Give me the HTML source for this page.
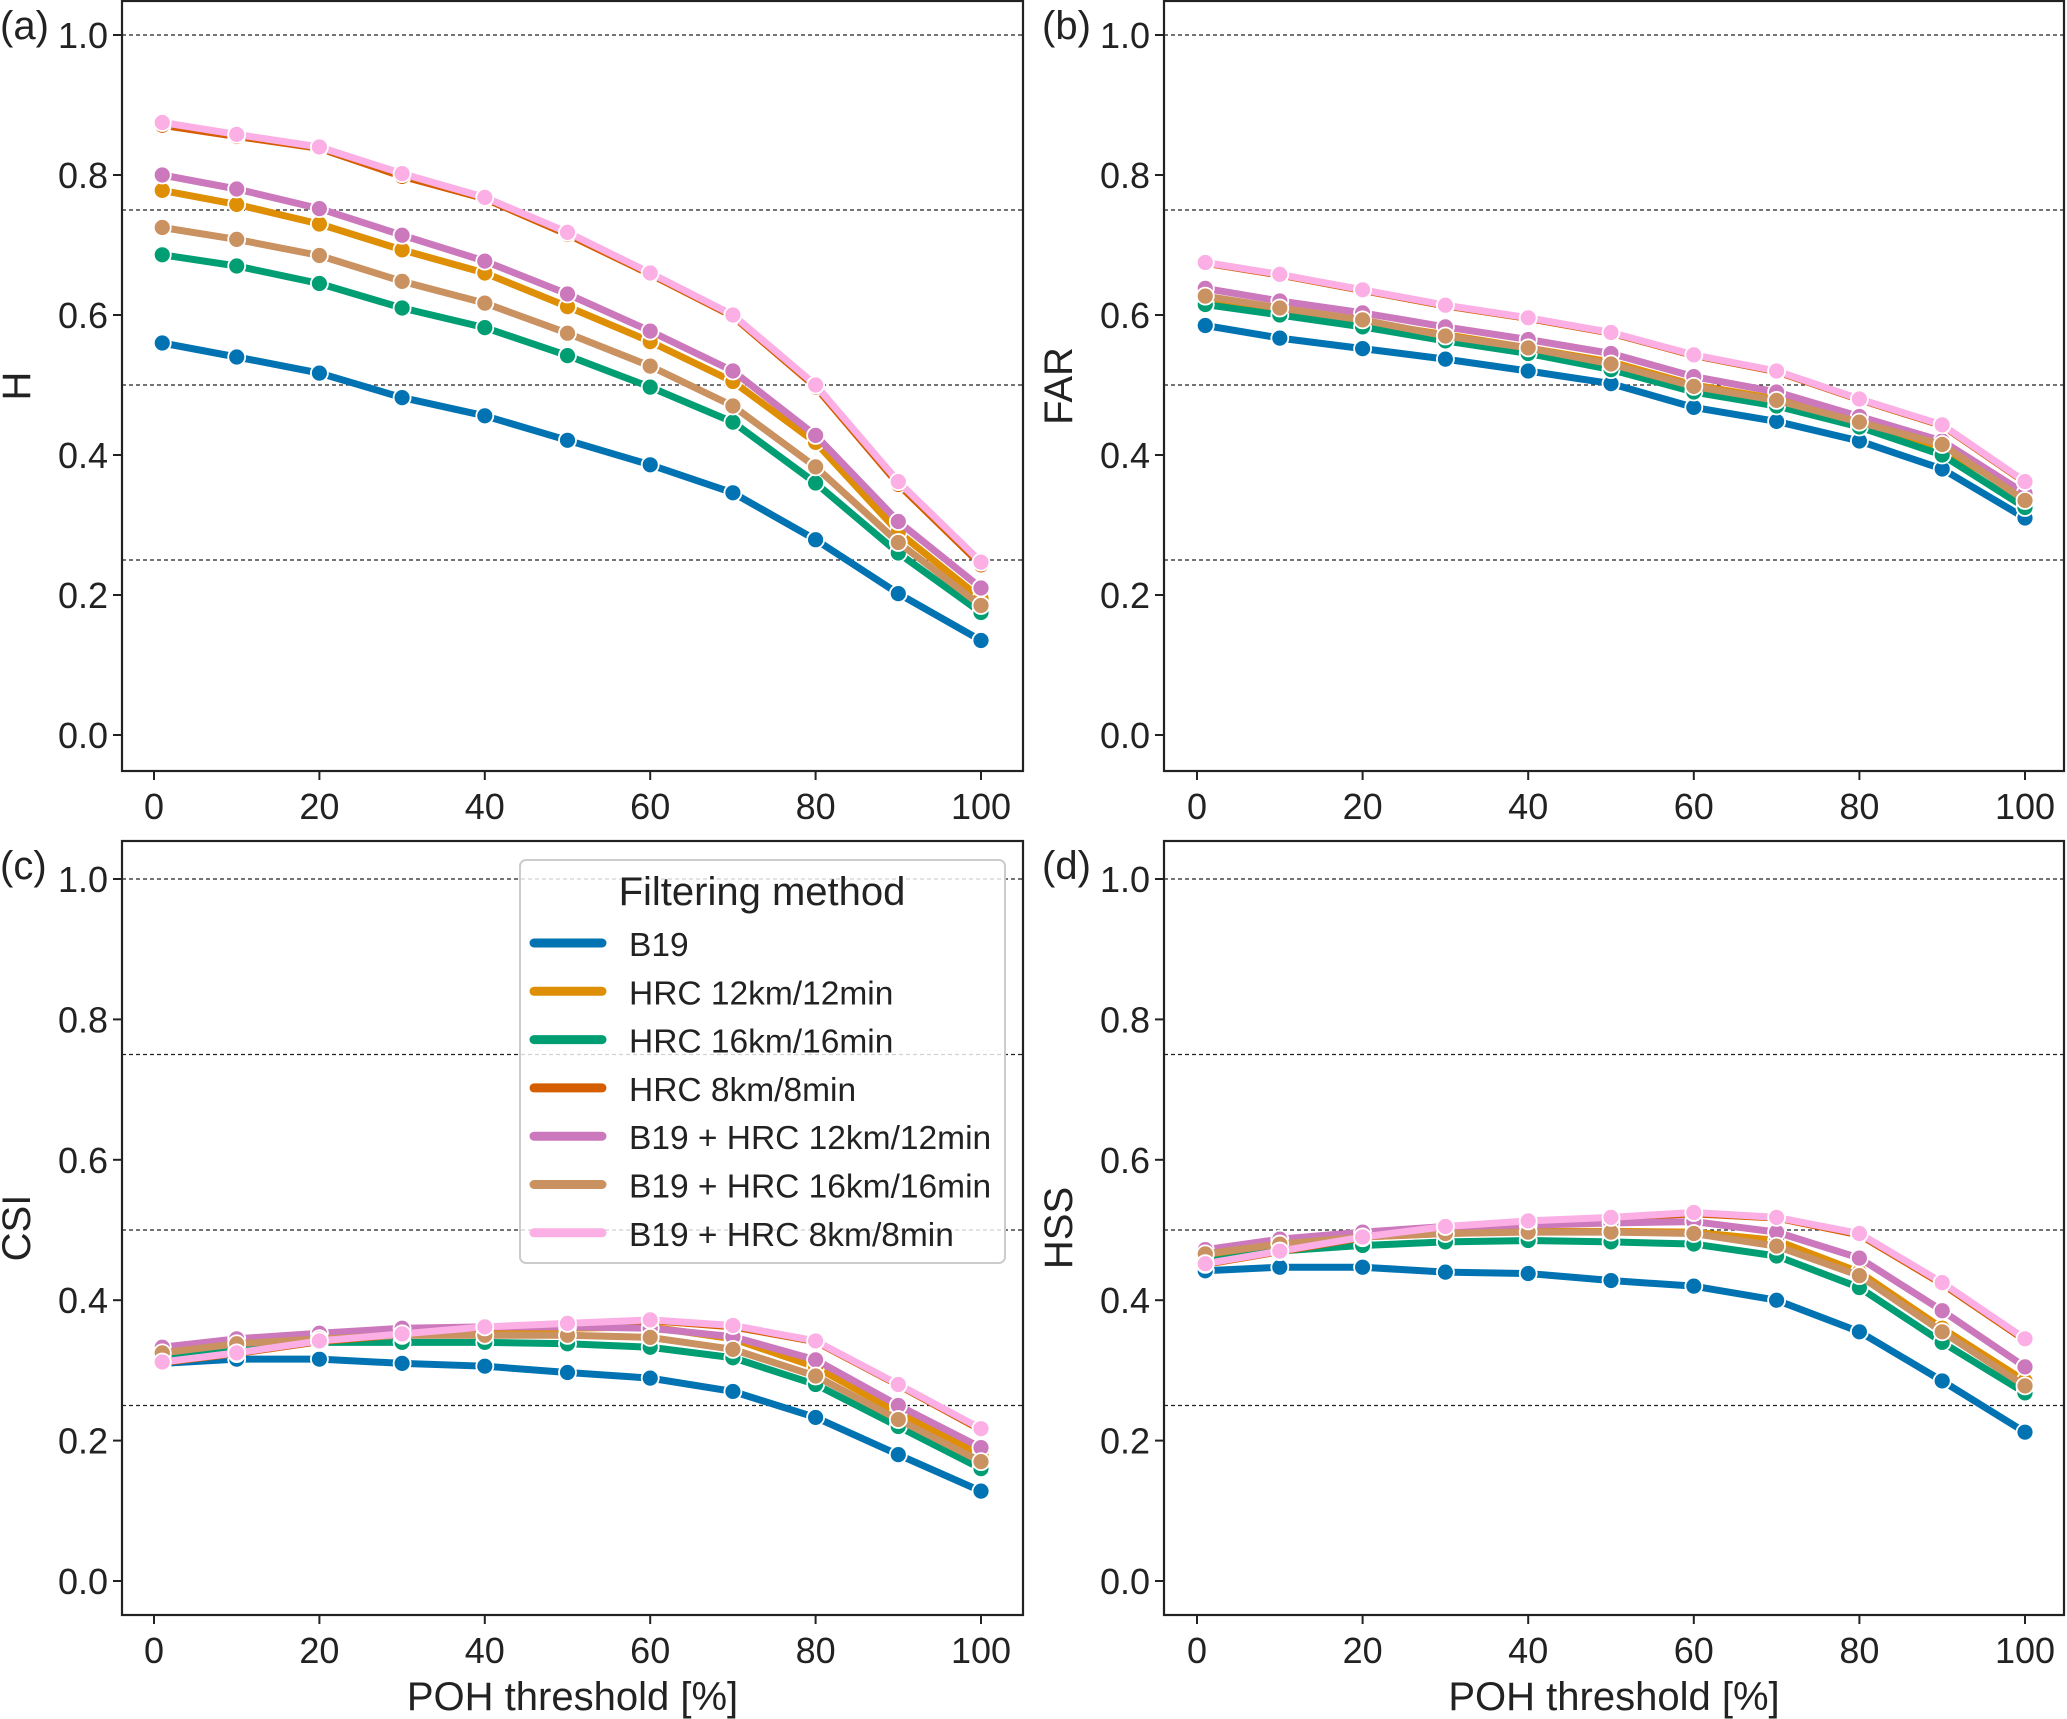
<!DOCTYPE html>
<html><head><meta charset="utf-8">
<style>
html,body{margin:0;padding:0;background:#fff;}
svg{display:block;font-family:"Liberation Sans",Arial,sans-serif;}
</style></head>
<body>
<svg id="fig" width="2067" height="1719" viewBox="0 0 2067 1719" xmlns="http://www.w3.org/2000/svg"></svg>
<script>
const xs = [1,10,20,30,40,50,60,70,80,90,100];
const seriesNames = ["B19","HRC 12km/12min","HRC 16km/16min","HRC 8km/8min","B19 + HRC 12km/12min","B19 + HRC 16km/16min","B19 + HRC 8km/8min"];
const colors = ["#0173b2","#de8f05","#029e73","#d55e00","#cc78bc","#ca9161","#fbafe4"];
const yTicks = [0.0,0.2,0.4,0.6,0.8,1.0];
const xTicks = [0,20,40,60,80,100];
const hLines = [0.25,0.5,0.75,1.0];

const H_B19 = [0.56,0.54,0.517,0.482,0.456,0.421,0.386,0.346,0.279,0.202,0.135];
const H_HRC12 = [0.778,0.758,0.73,0.693,0.66,0.612,0.562,0.505,0.418,0.29,0.195];
const H_HRC16 = [0.686,0.67,0.645,0.61,0.582,0.542,0.497,0.447,0.36,0.26,0.175];
const H_HRC8 = [0.871,0.855,0.838,0.798,0.766,0.715,0.658,0.598,0.497,0.358,0.243];
const H_B19HRC12 = [0.8,0.78,0.752,0.714,0.677,0.63,0.577,0.52,0.428,0.305,0.21];
const H_B19HRC16 = [0.725,0.708,0.685,0.648,0.617,0.574,0.527,0.47,0.383,0.275,0.185];
const H_B19HRC8 = [0.875,0.858,0.84,0.802,0.768,0.718,0.66,0.6,0.5,0.362,0.247];

const FAR_B19 = [0.585,0.567,0.552,0.537,0.52,0.502,0.468,0.448,0.42,0.38,0.31];
const FAR_HRC12 = [0.622,0.606,0.59,0.572,0.553,0.533,0.5,0.48,0.45,0.41,0.34];
const FAR_HRC16 = [0.615,0.6,0.583,0.563,0.545,0.522,0.49,0.47,0.44,0.4,0.325];
const FAR_HRC8 = [0.674,0.657,0.635,0.613,0.595,0.574,0.542,0.519,0.479,0.442,0.361];
const FAR_B19HRC12 = [0.638,0.62,0.603,0.583,0.565,0.545,0.512,0.49,0.455,0.42,0.345];
const FAR_B19HRC16 = [0.627,0.61,0.593,0.57,0.553,0.53,0.498,0.478,0.447,0.415,0.335];
const FAR_B19HRC8 = [0.675,0.658,0.636,0.614,0.596,0.575,0.543,0.52,0.48,0.443,0.362];

const CSI_B19 = [0.31,0.316,0.316,0.31,0.306,0.297,0.289,0.27,0.233,0.18,0.128];
const CSI_HRC12 = [0.325,0.34,0.35,0.355,0.358,0.36,0.362,0.345,0.305,0.24,0.18];
const CSI_HRC16 = [0.32,0.332,0.34,0.34,0.34,0.338,0.333,0.318,0.28,0.22,0.16];
const CSI_HRC8 = [0.311,0.324,0.341,0.351,0.361,0.366,0.371,0.362,0.341,0.279,0.215];
const CSI_B19HRC12 = [0.333,0.345,0.353,0.36,0.362,0.362,0.36,0.348,0.315,0.25,0.19];
const CSI_B19HRC16 = [0.325,0.338,0.345,0.35,0.35,0.35,0.347,0.33,0.292,0.23,0.17];
const CSI_B19HRC8 = [0.312,0.325,0.342,0.352,0.362,0.367,0.372,0.364,0.342,0.28,0.217];

const HSS_B19 = [0.442,0.447,0.447,0.44,0.438,0.428,0.42,0.4,0.355,0.285,0.212];
const HSS_HRC12 = [0.46,0.478,0.49,0.495,0.498,0.498,0.497,0.485,0.44,0.36,0.285];
const HSS_HRC16 = [0.455,0.47,0.478,0.483,0.485,0.483,0.48,0.463,0.418,0.34,0.268];
const HSS_HRC8 = [0.451,0.469,0.489,0.503,0.512,0.517,0.523,0.517,0.493,0.423,0.343];
const HSS_B19HRC12 = [0.472,0.487,0.497,0.505,0.507,0.51,0.512,0.497,0.46,0.385,0.305];
const HSS_B19HRC16 = [0.466,0.48,0.49,0.495,0.497,0.497,0.495,0.477,0.435,0.355,0.278];
const HSS_B19HRC8 = [0.452,0.47,0.49,0.505,0.513,0.518,0.525,0.518,0.495,0.425,0.345];

const NS = "http://www.w3.org/2000/svg";
const svg = document.getElementById("fig");
function mk(tag, attrs, parent){
  const e = document.createElementNS(NS, tag);
  for (const k in attrs) e.setAttribute(k, attrs[k]);
  (parent||svg).appendChild(e);
  return e;
}

const panels = [
  {id:"a", label:"H", data:[H_B19,H_HRC12,H_HRC16,H_HRC8,H_B19HRC12,H_B19HRC16,H_B19HRC8], L:122,R:1023,T:1,B:771, x0:154,x100:981, y0:735,y1:35, xlab:false},
  {id:"b", label:"FAR", data:[FAR_B19,FAR_HRC12,FAR_HRC16,FAR_HRC8,FAR_B19HRC12,FAR_B19HRC16,FAR_B19HRC8], L:1164,R:2064,T:1,B:771, x0:1197,x100:2025, y0:735,y1:35, xlab:false},
  {id:"c", label:"CSI", data:[CSI_B19,CSI_HRC12,CSI_HRC16,CSI_HRC8,CSI_B19HRC12,CSI_B19HRC16,CSI_B19HRC8], L:122,R:1023,T:841,B:1615, x0:154,x100:981, y0:1581,y1:879, xlab:true},
  {id:"d", label:"HSS", data:[HSS_B19,HSS_HRC12,HSS_HRC16,HSS_HRC8,HSS_B19HRC12,HSS_B19HRC16,HSS_B19HRC8], L:1164,R:2064,T:841,B:1615, x0:1197,x100:2025, y0:1581,y1:879, xlab:true}
];

panels.forEach(p=>{
  const g = mk("g",{});
  
  
  const X = v => p.x0 + (p.x100-p.x0)*v/100;
  const Y = v => p.y0 + (p.y1-p.y0)*v;
  hLines.forEach(h=>{
    const l = mk("line",{x1:p.L,x2:p.R,y1:Y(h),y2:Y(h),stroke:"#222","stroke-width":1.3,"stroke-dasharray":"4,3"},g);
    
    
  });
  p.data.forEach((arr,si)=>{
    const pts = arr.map((v,i)=>X(xs[i])+","+Y(v)).join(" ");
    const pl = mk("polyline",{points:pts,fill:"none",stroke:colors[si],"stroke-width":7,"stroke-linejoin":"round","stroke-linecap":"round"},g);
    
    
    arr.forEach((v,i)=>{
      const c = mk("circle",{cx:X(xs[i]),cy:Y(v),r:8.5,fill:colors[si],stroke:"#fff","stroke-width":1.8},g);
      
      
    });
  });
  const fr = mk("rect",{x:p.L,y:p.T,width:p.R-p.L,height:p.B-p.T,fill:"none",stroke:"#222","stroke-width":2.2},g);
  
  
  yTicks.forEach(t=>{
    mk("line",{x1:p.L-9,x2:p.L,y1:Y(t),y2:Y(t),stroke:"#222","stroke-width":2},g);
    const tx = mk("text",{x:p.L-14,y:Y(t)+13,"text-anchor":"end","font-size":36,fill:"#222"},g);
    tx.textContent = t.toFixed(1);
    
    
  });
  xTicks.forEach(t=>{
    mk("line",{x1:X(t),x2:X(t),y1:p.B,y2:p.B+9,stroke:"#222","stroke-width":2},g);
    const tx = mk("text",{x:X(t),y:p.B+48,"text-anchor":"middle","font-size":36,fill:"#222"},g);
    tx.textContent = t;
    
    
  });
  const yl = mk("text",{x:0,y:0,"text-anchor":"middle","font-size":40,fill:"#222",transform:`translate(${p.L-92},${(p.T+p.B)/2}) rotate(-90)`},g);
  yl.textContent = p.label;
  
  
  const pl = mk("text",{x:p.L-122,y:p.T+38,"font-size":40,fill:"#222"},g);
  pl.textContent = "("+p.id+")";
  
  
  if (p.xlab){
    const xl = mk("text",{x:(p.L+p.R)/2,y:1710,"text-anchor":"middle","font-size":40,fill:"#222"},g);
    xl.textContent = "POH threshold [%]";
    
    
  }
});

const lg = mk("g",{});


mk("rect",{x:520,y:860,width:485,height:403,rx:6,fill:"#fff","fill-opacity":0.8,stroke:"#ccc","stroke-width":2},lg);
const lt = mk("text",{x:762,y:905,"text-anchor":"middle","font-size":40,fill:"#222"},lg);
lt.textContent = "Filtering method";


seriesNames.forEach((n,i)=>{
  const y = 943 + i*48.3;
  const e = mk("g",{},lg);
  
  
  mk("line",{x1:534,x2:602,y1:y,y2:y,stroke:colors[i],"stroke-width":9,"stroke-linecap":"round"},e);
  const t = mk("text",{x:629,y:y+13,"font-size":33.5,fill:"#222"},e);
  t.textContent = n;
});
</script>
</body></html>
